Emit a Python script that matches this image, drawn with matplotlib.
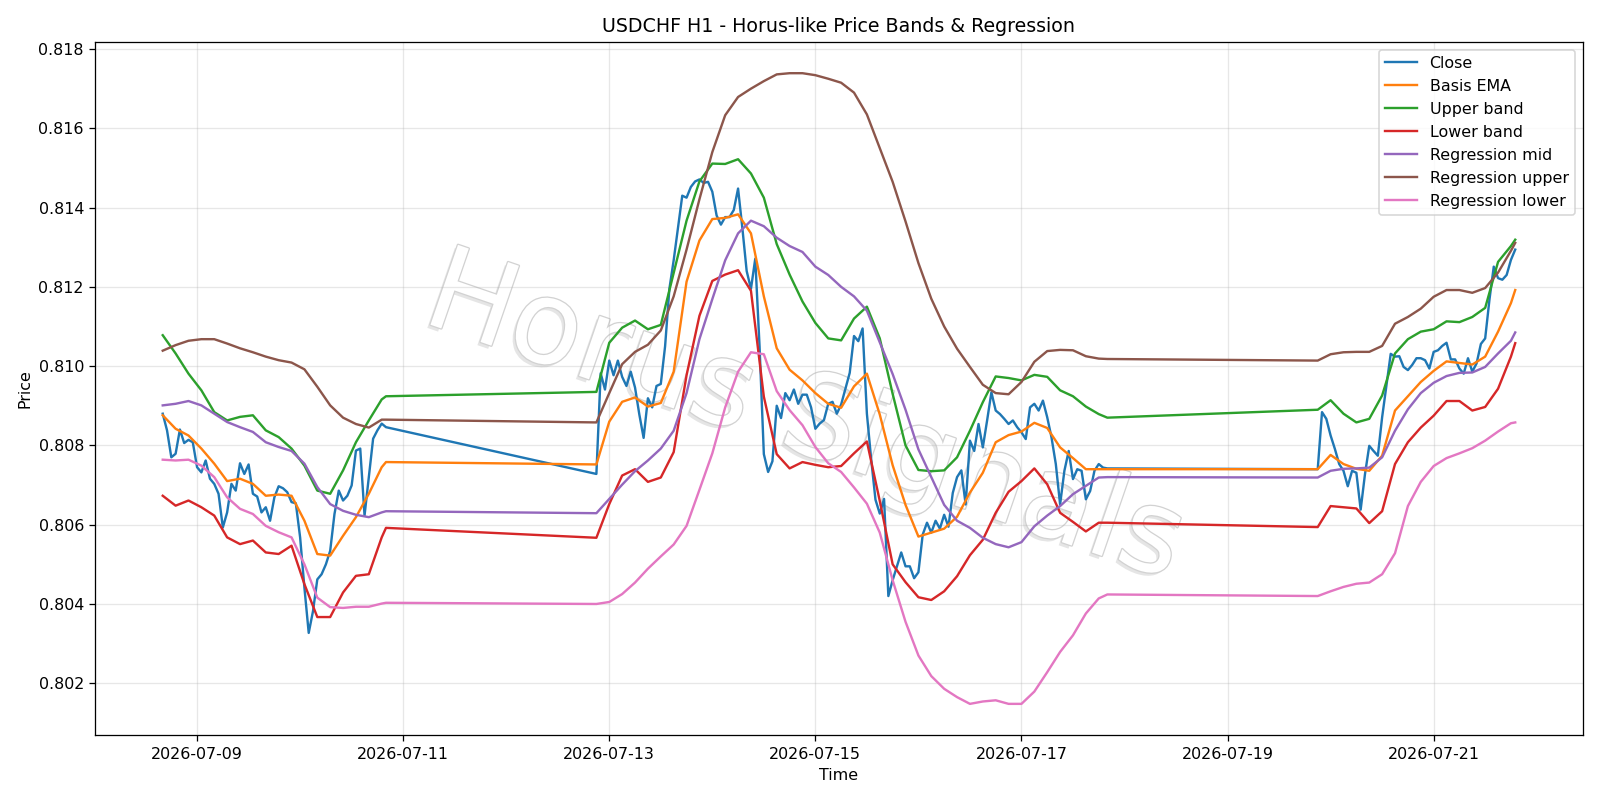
import numpy as np
import pandas as pd
import matplotlib
matplotlib.use("Agg")
import matplotlib.pyplot as plt
import matplotlib.patheffects as pe

# hourly sessions (weekend gaps between them)
seg_starts = ["2026-07-08 16:00", "2026-07-12 21:00", "2026-07-19 21:00"]
seg_lengths = [53, 120, 47]

close = [
    # Jul 8 16:00 -> Jul 10 20:00
    0.80880, 0.80838, 0.80770, 0.80779, 0.80840, 0.80806, 0.80814, 0.80808, 0.80745, 0.80732,
    0.80762, 0.80716, 0.80703, 0.80678, 0.80593, 0.80631, 0.80703, 0.80686, 0.80755, 0.80728,
    0.80752, 0.80678, 0.80671, 0.80631, 0.80644, 0.80610, 0.80669, 0.80697, 0.80692, 0.80682,
    0.80657, 0.80654, 0.80568, 0.80441, 0.80327, 0.80382, 0.80462, 0.80475, 0.80500, 0.80534,
    0.80627, 0.80686, 0.80661, 0.80673, 0.80699, 0.80787, 0.80792, 0.80623, 0.80720, 0.80817,
    0.80838, 0.80855, 0.80846,
    # Jul 12 21:00 -> Jul 17 20:00
    0.80728, 0.80982, 0.80941, 0.81014, 0.80977, 0.81014, 0.80973, 0.80950, 0.80986, 0.80946,
    0.80878, 0.80819, 0.80919, 0.80896, 0.80950, 0.80955, 0.81050, 0.81195, 0.81267, 0.81348,
    0.81430, 0.81425, 0.81452, 0.81466, 0.81471, 0.81462, 0.81465, 0.81440, 0.81380, 0.81357,
    0.81376, 0.81376, 0.81394, 0.81448, 0.81348, 0.81240, 0.81195, 0.81271, 0.81050, 0.80778,
    0.80733, 0.80760, 0.80900, 0.80869, 0.80932, 0.80914, 0.80941, 0.80905, 0.80928, 0.80928,
    0.80896, 0.80842, 0.80855, 0.80864, 0.80905, 0.80910, 0.80880, 0.80903, 0.80943, 0.80983,
    0.81076, 0.81063, 0.81095, 0.80880, 0.80765, 0.80663, 0.80628, 0.80665, 0.80420, 0.80460,
    0.80495, 0.80530, 0.80495, 0.80495, 0.80465, 0.80480, 0.80575, 0.80605, 0.80580, 0.80610,
    0.80590, 0.80625, 0.80595, 0.80680, 0.80720, 0.80737, 0.80651, 0.80812, 0.80786, 0.80854,
    0.80795, 0.80863, 0.80934, 0.80888, 0.80879, 0.80867, 0.80854, 0.80863, 0.80846, 0.80833,
    0.80816, 0.80896, 0.80905, 0.80888, 0.80913, 0.80871, 0.80820, 0.80753, 0.80651, 0.80736,
    0.80786, 0.80715, 0.80740, 0.80736, 0.80664, 0.80685, 0.80736, 0.80753, 0.80744, 0.80742,
    # Jul 19 21:00 -> Jul 21 19:00
    0.80740, 0.80884, 0.80867, 0.80825, 0.80791, 0.80753, 0.80736, 0.80697, 0.80736, 0.80731,
    0.80638, 0.80727, 0.80799, 0.80786, 0.80774, 0.80871, 0.80952, 0.81031, 0.81024, 0.81025,
    0.80998, 0.80990, 0.81003, 0.81020, 0.81020, 0.81015, 0.80994, 0.81036, 0.81040, 0.81051,
    0.81059, 0.81017, 0.81017, 0.80994, 0.80981, 0.81020, 0.80986, 0.81007, 0.81056, 0.81070,
    0.81168, 0.81251, 0.81222, 0.81218, 0.81230, 0.81268, 0.81294,
]

# band / regression lines, read every 3 hours (plus the last hour of each session)
basis_ema = [
    0.80876, 0.80842, 0.80825, 0.80792, 0.80754, 0.80710, 0.80716, 0.80703, 0.80673, 0.80676,
    0.80673, 0.80610, 0.80526, 0.80522, 0.80572, 0.80619, 0.80678, 0.80745, 0.80758,
    0.80752, 0.80860, 0.80910, 0.80921, 0.80898, 0.80907, 0.80986, 0.81213, 0.81317, 0.81371,
    0.81374, 0.81383, 0.81335, 0.81176, 0.81045, 0.80991, 0.80964, 0.80932, 0.80905, 0.80895,
    0.80949, 0.80981, 0.80878, 0.80750, 0.80650, 0.80570, 0.80580, 0.80590, 0.80620, 0.80681,
    0.80731, 0.80808, 0.80826, 0.80835, 0.80857, 0.80844, 0.80795, 0.80768, 0.80740, 0.80740,
    0.80740,
    0.80740, 0.80776, 0.80753, 0.80741, 0.80736, 0.80774, 0.80888, 0.80924, 0.80960, 0.80988,
    0.81012, 0.81008, 0.81004, 0.81024, 0.81087, 0.81159, 0.81192,
]
upper_band = [
    0.81078, 0.81032, 0.80981, 0.80939, 0.80884, 0.80863, 0.80872, 0.80876, 0.80838, 0.80821,
    0.80792, 0.80749, 0.80686, 0.80678, 0.80737, 0.80808, 0.80863, 0.80916, 0.80924,
    0.80935, 0.81059, 0.81097, 0.81115, 0.81093, 0.81104, 0.81235, 0.81367, 0.81466, 0.81511,
    0.81510, 0.81522, 0.81486, 0.81425, 0.81308, 0.81231, 0.81163, 0.81109, 0.81070, 0.81065,
    0.81120, 0.81150, 0.81070, 0.80930, 0.80800, 0.80738, 0.80735, 0.80737, 0.80770, 0.80837,
    0.80909, 0.80974, 0.80970, 0.80964, 0.80978, 0.80973, 0.80939, 0.80924, 0.80898, 0.80879,
    0.80870,
    0.80890, 0.80914, 0.80880, 0.80858, 0.80867, 0.80926, 0.81032, 0.81068, 0.81087, 0.81093,
    0.81113, 0.81111, 0.81124, 0.81147, 0.81263, 0.81303, 0.81319,
]
lower_band = [
    0.80673, 0.80648, 0.80661, 0.80644, 0.80623, 0.80568, 0.80551, 0.80560, 0.80530, 0.80526,
    0.80547, 0.80450, 0.80367, 0.80367, 0.80429, 0.80471, 0.80475, 0.80568, 0.80592,
    0.80567, 0.80652, 0.80724, 0.80740, 0.80708, 0.80719, 0.80783, 0.80977, 0.81127, 0.81215,
    0.81231, 0.81242, 0.81190, 0.80923, 0.80778, 0.80742, 0.80758, 0.80751, 0.80745, 0.80748,
    0.80780, 0.80810, 0.80660, 0.80500, 0.80455, 0.80417, 0.80410, 0.80432, 0.80470, 0.80523,
    0.80562, 0.80630, 0.80683, 0.80710, 0.80742, 0.80702, 0.80630, 0.80607, 0.80583, 0.80605,
    0.80605,
    0.80594, 0.80647, 0.80644, 0.80641, 0.80604, 0.80634, 0.80753, 0.80808, 0.80845, 0.80875,
    0.80912, 0.80912, 0.80888, 0.80897, 0.80943, 0.81024, 0.81058,
]
reg_mid = [
    0.80901, 0.80905, 0.80912, 0.80901, 0.80880, 0.80859, 0.80846, 0.80834, 0.80808, 0.80796,
    0.80786, 0.80754, 0.80695, 0.80652, 0.80635, 0.80625, 0.80619, 0.80631, 0.80634,
    0.80629, 0.80665, 0.80701, 0.80735, 0.80762, 0.80792, 0.80837, 0.80932, 0.81068, 0.81169,
    0.81267, 0.81335, 0.81367, 0.81353, 0.81324, 0.81303, 0.81288, 0.81251, 0.81230, 0.81200,
    0.81176, 0.81140, 0.81060, 0.80980, 0.80890, 0.80790, 0.80720, 0.80650, 0.80610, 0.80592,
    0.80567, 0.80551, 0.80543, 0.80556, 0.80596, 0.80623, 0.80647, 0.80677, 0.80698, 0.80719,
    0.80720,
    0.80719, 0.80736, 0.80741, 0.80742, 0.80744, 0.80770, 0.80837, 0.80891, 0.80932, 0.80958,
    0.80975, 0.80983, 0.80984, 0.80998, 0.81032, 0.81064, 0.81085,
]
reg_upper = [
    0.81039, 0.81053, 0.81064, 0.81068, 0.81068, 0.81057, 0.81045, 0.81035, 0.81024, 0.81015,
    0.81009, 0.80992, 0.80948, 0.80901, 0.80870, 0.80854, 0.80845, 0.80865, 0.80865,
    0.80858, 0.80932, 0.81005, 0.81036, 0.81054, 0.81090, 0.81176, 0.81294, 0.81421, 0.81540,
    0.81633, 0.81679, 0.81700, 0.81719, 0.81736, 0.81739, 0.81739, 0.81734, 0.81725, 0.81715,
    0.81690, 0.81635, 0.81550, 0.81465, 0.81365, 0.81260, 0.81170, 0.81100, 0.81044, 0.80998,
    0.80953, 0.80932, 0.80929, 0.80960, 0.81011, 0.81038, 0.81041, 0.81040, 0.81025, 0.81019,
    0.81018,
    0.81014, 0.81030, 0.81035, 0.81036, 0.81036, 0.81051, 0.81107, 0.81124, 0.81145, 0.81175,
    0.81192, 0.81192, 0.81185, 0.81197, 0.81236, 0.81291, 0.81311,
]
reg_lower = [
    0.80764, 0.80762, 0.80764, 0.80749, 0.80720, 0.80669, 0.80640, 0.80627, 0.80597, 0.80581,
    0.80568, 0.80500, 0.80416, 0.80392, 0.80390, 0.80393, 0.80393, 0.80401, 0.80403,
    0.80400, 0.80405, 0.80425, 0.80454, 0.80489, 0.80520, 0.80550, 0.80597, 0.80688, 0.80780,
    0.80896, 0.80986, 0.81035, 0.81030, 0.80937, 0.80889, 0.80851, 0.80796, 0.80755, 0.80733,
    0.80694, 0.80653, 0.80580, 0.80460, 0.80355, 0.80270, 0.80218, 0.80186, 0.80165, 0.80148,
    0.80154, 0.80157, 0.80148, 0.80148, 0.80179, 0.80228, 0.80279, 0.80321, 0.80376, 0.80414,
    0.80424,
    0.80420, 0.80432, 0.80443, 0.80451, 0.80454, 0.80475, 0.80528, 0.80647, 0.80708, 0.80748,
    0.80768, 0.80780, 0.80793, 0.80812, 0.80835, 0.80856, 0.80858,
]

times = []
sample_idx = []
offset = 0
for start, n in zip(seg_starts, seg_lengths):
    times.extend(pd.date_range(start, periods=n, freq="h"))
    idx = list(range(0, n, 3))
    if idx[-1] != n - 1:
        idx.append(n - 1)
    sample_idx.extend([offset + k for k in idx])
    offset += n
times = pd.DatetimeIndex(times)
t_s = times[sample_idx]

fig, ax = plt.subplots(figsize=(14, 7), dpi=1600 / 14)

ax.plot(times, close, label="Close", lw=1.5)
ax.plot(t_s, basis_ema, label="Basis EMA", lw=1.5)
ax.plot(t_s, upper_band, label="Upper band", lw=1.5)
ax.plot(t_s, lower_band, label="Lower band", lw=1.5)
ax.plot(t_s, reg_mid, label="Regression mid", lw=1.5)
ax.plot(t_s, reg_upper, label="Regression upper", lw=1.5)
ax.plot(t_s, reg_lower, label="Regression lower", lw=1.5)

# watermark
ax.text(0.477, 0.455, "Horus Signals", transform=ax.transAxes, fontsize=73,
        color="white", rotation=-19, ha="center", va="center", zorder=1,
        path_effects=[pe.withSimplePatchShadow(offset=(-2, -2), shadow_rgbFace="#aaaaaa", alpha=0.3),
                      pe.withStroke(linewidth=1.6, foreground="#d2d2d2")])

ax.set_title("USDCHF H1 - Horus-like Price Bands & Regression")
ax.set_xlabel("Time")
ax.set_ylabel("Price")
ax.grid(True, alpha=0.3)
ax.legend(loc="upper right")

fig.tight_layout()
fig.savefig("out.png")
